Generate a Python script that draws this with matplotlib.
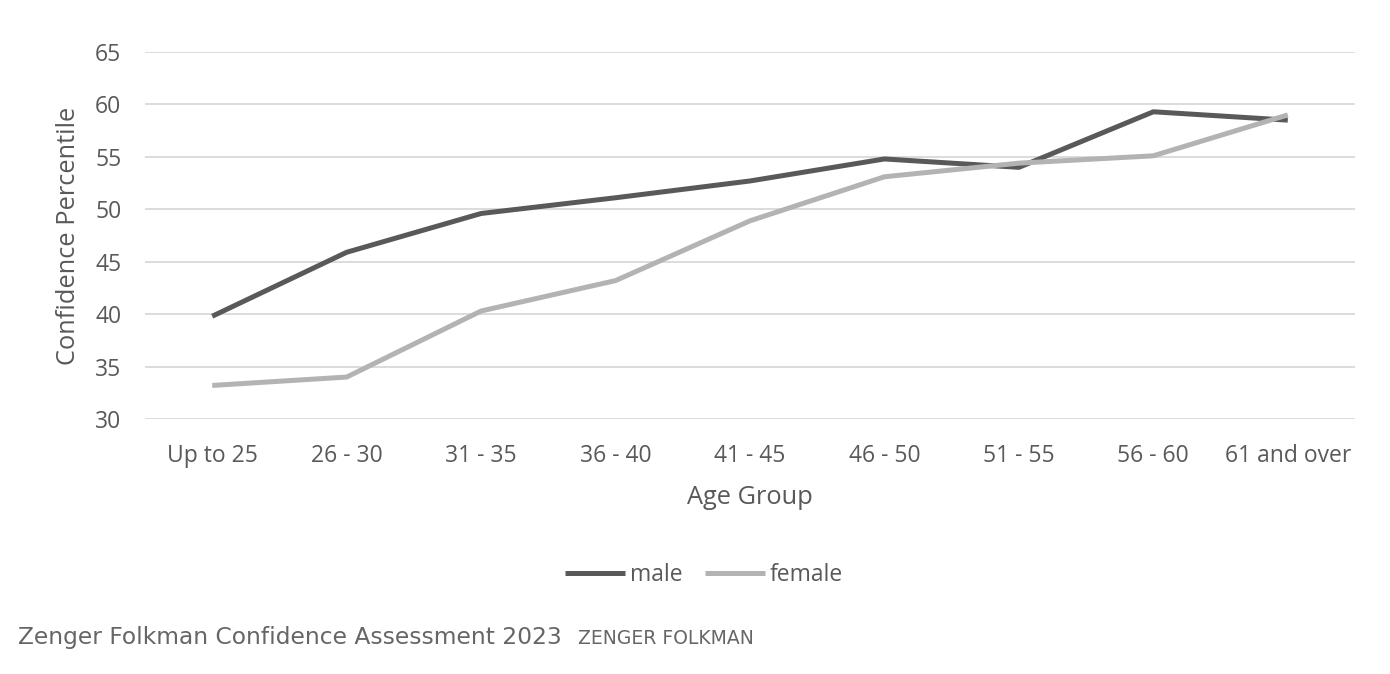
import matplotlib.pyplot as plt
import numpy as np

age_groups = ["Up to 25", "26 - 30", "31 - 35", "36 - 40", "41 - 45",
              "46 - 50", "51 - 55", "56 - 60", "61 and over"]
male = [39.8, 45.9, 49.6, 51.1, 52.7, 54.8, 54.0, 59.3, 58.5]
female = [33.2, 34.0, 40.3, 43.2, 48.9, 53.1, 54.4, 55.1, 59.0]

plt.rcParams['font.family'] = ['Open Sans', 'DejaVu Sans']

fig = plt.figure(figsize=(13.9, 6.74), dpi=100)
ax = fig.add_axes([145 / 1390, 1 - 419 / 674, 1210 / 1390, 367 / 674])

x = np.arange(len(age_groups))
ax.plot(x, male, color='#595959', linewidth=3.6, label='male', solid_capstyle='butt')
ax.plot(x, female, color='#b3b3b3', linewidth=3.6, label='female', solid_capstyle='butt')

ax.set_xlim(-0.5, len(age_groups) - 0.5)
ax.set_ylim(30, 65)
ax.set_yticks(np.arange(30, 66, 5))
ax.set_xticks(x)
ax.set_xticklabels(age_groups)
ax.yaxis.grid(True, color='#d9d9d9', linewidth=1.3)
ax.set_axisbelow(True)
for s in ax.spines.values():
    s.set_visible(False)
ax.tick_params(axis='both', length=0, labelsize=16.5, labelcolor='#595959')
ax.tick_params(axis='x', pad=18)
ax.tick_params(axis='y', pad=17)

ax.set_xlabel("Age Group", fontsize=18.3, color='#595959', labelpad=12)
ax.set_ylabel("Confidence Percentile", fontsize=18.3, color='#595959', labelpad=10)

leg = ax.legend(loc='center', bbox_to_anchor=(0.462, -0.425), ncol=2, frameon=False,
                fontsize=16.5, handlelength=2.6, handletextpad=0.2, columnspacing=1.0)
for t in leg.get_texts():
    t.set_color('#595959')

# source line under the chart
fig.text(18 / 1390, 1 - 644 / 674, "Zenger Folkman Confidence Assessment 2023",
         fontsize=16.8, color='#666666', family=['DejaVu Sans'], va='baseline')
fig.text(578 / 1390, 1 - 644 / 674, "ZENGER FOLKMAN",
         fontsize=13.5, color='#666666', family=['DejaVu Sans'], va='baseline')

fig.savefig("out.png", dpi=100)
